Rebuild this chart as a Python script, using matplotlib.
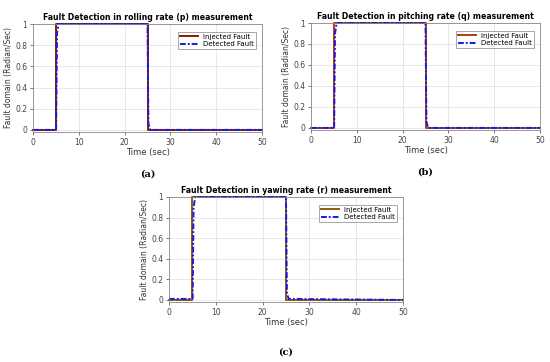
import matplotlib.pyplot as plt

# breakpoints of the injected step fault (same in all three channels)
t_inj = [0, 5, 5, 25, 25, 50]
y_inj = [0, 0, 1, 1, 0, 0]

# detected fault (small lag at the edges)
t_det = [0, 5.05, 5.25, 5.6, 25.0, 25.2, 25.6, 50]
y_det_p = [0, 0, 0.92, 1.0, 1.0, 0.06, 0.0, 0.0]
y_det_q = [0, 0, 0.9, 1.0, 1.0, 0.06, 0.0, 0.0]
y_det_r = [0.01, 0.01, 0.9, 1.0, 1.0, 0.06, 0.01, 0.0]

titles = ['Fault Detection in rolling rate (p) measurement',
          'Fault Detection in pitching rate (q) measurement',
          'Fault Detection in yawing rate (r) measurement']
labels = ['(a)', '(b)', '(c)']
inj_colors = ['#8b1a00', '#b03a10', '#8b5a10']

fig = plt.figure(figsize=(5.5, 3.62), dpi=100)
W, H = 550, 362
# axes boxes in pixels: left, top, right, bottom
boxes = [(33, 24, 262, 132), (311, 23, 540, 130), (169, 197, 403, 302)]
sub_y = [174, 172, 352]
dets = [y_det_p, y_det_q, y_det_r]

for i in range(3):
    l, t, r, b = boxes[i]
    ax = fig.add_axes([l / W, 1 - b / H, (r - l) / W, (b - t) / H])
    ax.plot(t_inj, y_inj, color=inj_colors[i], lw=1.4, label='Injected Fault', clip_on=False)
    ax.plot(t_det, dets[i], color='#1a1adf', lw=1.4, ls=(0, (3, 1, 1, 1)),
            label='Detected Fault', clip_on=False)
    ax.set_xlim(0, 50)
    ax.set_ylim(-0.02, 1)
    ax.set_xticks([0, 10, 20, 30, 40, 50])
    ax.set_yticks([0, 0.2, 0.4, 0.6, 0.8, 1])
    ax.set_yticklabels(['0', '0.2', '0.4', '0.6', '0.8', '1'])
    ax.grid(True, color='#e4e4e4', lw=0.6)
    ax.tick_params(labelsize=5.5, colors='#444444', length=2, width=0.5, pad=2)
    for s in ax.spines.values():
        s.set_color('#888888')
        s.set_linewidth(0.6)
    ax.set_title(titles[i], fontsize=5.6, fontweight='bold', pad=3)
    ax.set_xlabel('Time (sec)', fontsize=6, color='#333333', labelpad=1)
    ax.set_ylabel('Fault domain (Radian/Sec)', fontsize=5.5, color='#333333', labelpad=2)
    leg = ax.legend(loc='upper right', fontsize=5, frameon=True, fancybox=False,
                    edgecolor='#666666', borderpad=0.3, handlelength=2.5,
                    labelspacing=0.2, bbox_to_anchor=(0.99, 0.96))
    leg.get_frame().set_linewidth(0.5)
    fig.text((l + r) / 2 / W, 1 - sub_y[i] / H, labels[i], ha='center', va='center',
             fontsize=7, fontweight='bold', family='DejaVu Serif')

fig.savefig('out.png', dpi=100, facecolor='white')
